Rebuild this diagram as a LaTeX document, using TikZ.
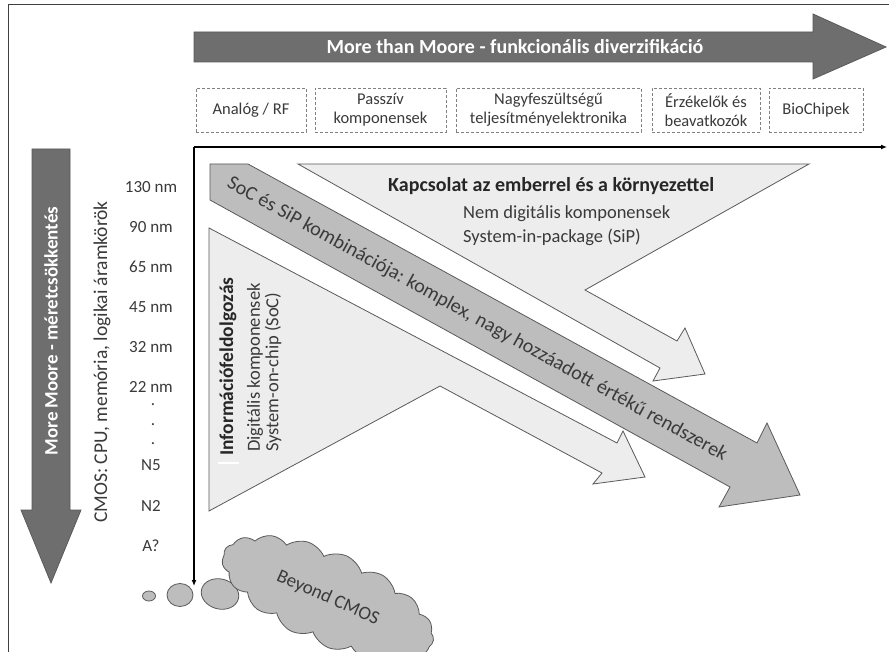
\documentclass[tikz,border=0pt]{standalone}
\usepackage{fontspec}
\setmainfont{Carlito}
\usetikzlibrary{shapes.symbols,shapes.geometric,arrows.meta}
\definecolor{darkfill}{HTML}{6E6E6E}
\definecolor{midfill}{HTML}{BDBDBD}
\definecolor{lightfill}{HTML}{EDEDED}
\definecolor{edgecol}{HTML}{5A5A5A}
\definecolor{txt}{HTML}{3A3A3A}
\begin{document}
\begin{tikzpicture}[x=1pt,y=-1pt,
  darkshape/.style={fill=darkfill, draw=edgecol, line width=0.8pt},
  midshape/.style={fill=midfill, draw=edgecol, line width=0.8pt},
  lightshape/.style={fill=lightfill, draw=edgecol, line width=0.8pt},
  dbox/.style={draw=gray, dash pattern=on 3pt off 2pt, line width=0.8pt, align=center,
    font=\fontsize{16.5}{19}\selectfont, text=txt, inner sep=0pt, minimum height=44pt},
  nmlabel/.style={font=\fontsize{17}{20}\selectfont, text=txt, inner sep=0pt},
  socword/.style={sloped, anchor=base west, font=\fontsize{20}{24}\selectfont, text=txt, inner sep=0pt},
  axisline/.style={line width=1.3pt, -{Latex[length=6pt,width=5pt]}},
  bubble/.style={ellipse, fill=midfill, draw=edgecol, line width=0.8pt, inner sep=0pt}
]
\useasboundingbox (0,0) rectangle (889,652);
\fill[white] (0,0) rectangle (889,652);
% frame
\coordinate (fbl) at (8,652);
\coordinate (ftl) at (8,5);
\coordinate (ftr) at (889,5);
\draw[line width=1pt, black!75] (fbl) -- (ftl) -- (ftr);

% top arrow
\draw[darkshape] (194,32) -- (813,32) -- (813,14) -- (886,47) -- (813,79) -- (813,62) -- (194,62) -- cycle;
\node[font=\bfseries\fontsize{20}{24}\selectfont, text=white] (toptext) at (515,47) {More than Moore - funkcionális diverzifikáció};

% dashed boxes
\node[dbox, minimum width=110pt] (b1) at (251,110) {Analóg / RF};
\node[dbox, minimum width=131pt] (b2) at (380.5,110) {Passzív\\komponensek};
\node[dbox, minimum width=185pt] (b3) at (548.5,110) {Nagyfeszültségű\\teljesítményelektronika};
\node[dbox, minimum width=108pt] (b4) at (706,110) {Érzékelők és\\beavatkozók};
\node[dbox, minimum width=94pt] (b5) at (816,110) {BioChipek};

% left arrow
\draw[darkshape] (32,149) -- (70,149) -- (70,510) -- (81,510) -- (51,583) -- (21,510) -- (32,510) -- cycle;
\node[font=\bfseries\fontsize{19}{22}\selectfont, text=white, rotate=90] (mm) at (51,331) {More Moore - méretcsökkentés};
\node[font=\fontsize{19.5}{22}\selectfont, text=txt, rotate=90] (cmos) at (102,362) {CMOS: CPU, memória, logikai áramkörök};

% nm labels
\node[nmlabel] (n130) at (151,187) {130 nm};
\node[nmlabel] (n90) at (151,227) {90 nm};
\node[nmlabel] (n65) at (151,267) {65 nm};
\node[nmlabel] (n45) at (151,307) {45 nm};
\node[nmlabel] (n32) at (151,347) {32 nm};
\node[nmlabel] (n22) at (151,387) {22 nm};
\node[nmlabel] (d1) at (153,405) {.};
\node[nmlabel] (d2) at (153,425) {.};
\node[nmlabel] (d3) at (153,444) {.};
\node[nmlabel] (n5) at (151,465) {N5};
\node[nmlabel] (n2) at (151,506) {N2};
\node[nmlabel] (na) at (151,546) {A?};

% light upper shape
\draw[lightshape] (298,164) -- (809,164) -- (585,290) -- (677,341) -- (685,328) -- (705,374) -- (653,381) -- (660,368) -- cycle;
% light lower shape
\draw[lightshape] (209,228) -- (617,443) -- (623,431) -- (645,477) -- (593,484) -- (602,473) -- (440,386) -- (209,511) -- cycle;
% mid arrow
\draw[midshape] (210,164) -- (248,164) -- (757,443) -- (767,423) -- (800,495) -- (719,507) -- (730,487) -- (210,200) -- cycle;
\coordinate (socS) at (226.0,186.8);
\coordinate (socE) at (723.9,461.7);
\path (socS) -- (socE)
  node[socword, pos=0] (w1) {SoC}
  node[socword, pos=0.0614] (w2) {és}
  node[socword, pos=0.1006] (w3) {SiP}
  node[socword, pos=0.1509] (w4) {kombinációja:}
  node[socword, pos=0.3594] (w5) {komplex,}
  node[socword, pos=0.4982] (w6) {nagy}
  node[socword, pos=0.5739] (w7) {hozzáadott}
  node[socword, pos=0.7408] (w8) {értékű}
  node[socword, pos=0.8423] (w9) {rendszerek};

% axes
\coordinate (o) at (194,147);
\coordinate (xe) at (887,147);
\coordinate (ye) at (194,586);
\draw[axisline] (o) -- (xe);
\draw[axisline] (o) -- (ye);

% upper texts
\node[font=\bfseries\fontsize{20}{24}\selectfont, text=black!85, anchor=west, inner sep=0pt] (kap) at (388,186) {Kapcsolat az emberrel és a környezettel};
\node[font=\fontsize{18.5}{22}\selectfont, text=txt, anchor=west, inner sep=0pt] (nem) at (463,214) {Nem digitális komponensek};
\node[font=\fontsize{18.5}{22}\selectfont, text=txt, anchor=west, inner sep=0pt] (sip) at (463,237) {System-in-package (SiP)};

% lower texts
\node[font=\bfseries\fontsize{19.5}{22}\selectfont, text=black!85, anchor=west, rotate=90, inner sep=0pt] (info) at (228,456) {Információfeldolgozás};
\node[font=\fontsize{18.5}{22}\selectfont, text=txt, anchor=west, rotate=90, inner sep=0pt] (dig) at (255,452) {Digitális komponensek};
\node[font=\fontsize{18.5}{22}\selectfont, text=txt, anchor=west, rotate=90, inner sep=0pt] (soc2) at (273,452) {System-on-chip (SoC)};
\coordinate (wm1) at (218,463);
\coordinate (wm2) at (239,463);
\draw[white, line width=2.5pt] (wm1) -- (wm2);

% bubbles and cloud
\node[bubble, minimum width=13pt, minimum height=10pt] (bb1) at (149,596) {};
\node[bubble, minimum width=26pt, minimum height=23pt] (bb2) at (180,595) {};
\node[bubble, minimum width=38pt, minimum height=30pt, rotate=-15] (bb3) at (220,594) {};
\node[cloud, cloud puffs=17, cloud puff arc=100, aspect=2.5, minimum width=228pt, minimum height=92pt,
  rotate=-24, fill=midfill, draw=edgecol, line width=0.8pt, inner sep=0pt,
  font=\fontsize{19}{22}\selectfont, text=txt] (cloud) at (328,598) {Beyond CMOS};
\end{tikzpicture}
\end{document}
